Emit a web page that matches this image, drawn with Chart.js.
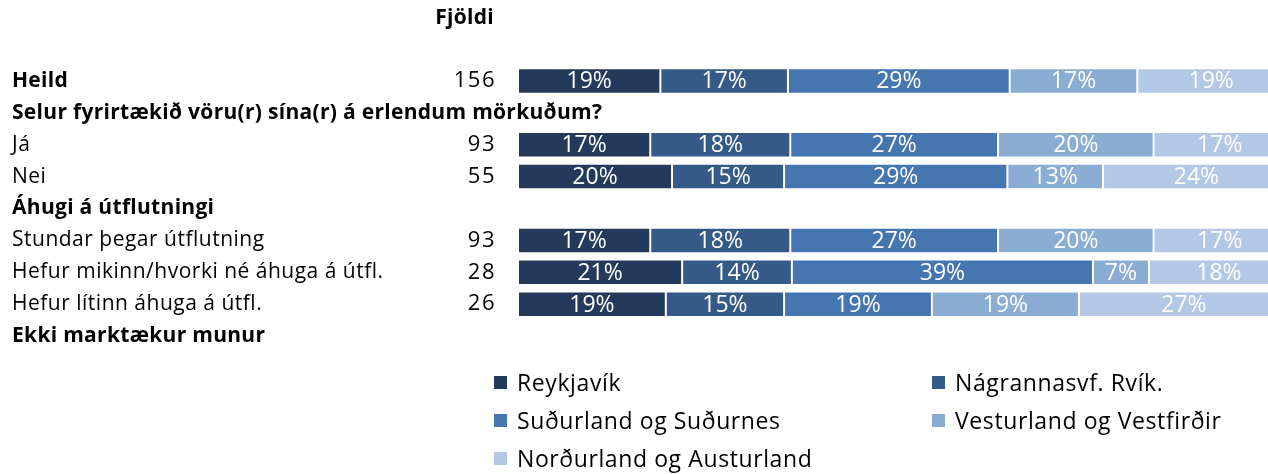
<!DOCTYPE html>
<html lang="is">
<head>
  <meta charset="UTF-8">
  <title>Fjöldi eftir landshlutum</title>
  <script src="https://cdn.jsdelivr.net/npm/chart.js"></script>
  <style>
    body {
      margin: 0;
      background: #ffffff;
      overflow: hidden;
    }
    .chart-wrap {
      position: relative;
      width: 1300px;
      height: 474px;
    }
    #legend {
      position: absolute;
      left: 494px;
      top: 363px;
      display: grid;
      grid-template-columns: 438px auto;
      grid-auto-rows: 38px;
      font-family: 'Open Sans', sans-serif;
      font-size: 23px;
      letter-spacing: 0.6px;
      color: #000;
    }
    #legend .item {
      display: flex;
      align-items: center;
      white-space: nowrap;
    }
    #legend .box {
      width: 13px;
      height: 13px;
      margin-right: 10px;
    }
  </style>
</head>
<body>
  <div class="chart-wrap">
    <canvas id="regionChart" width="1300" height="474"></canvas>
    <div id="legend"></div>
  </div>

  <script>
    // Rows (header rows have no bars)
    const rows = [
      'Heild',
      'Selur fyrirtækið vöru(r) sína(r) á erlendum mörkuðum?',
      'Já',
      'Nei',
      'Áhugi á útflutningi',
      'Stundar þegar útflutning',
      'Hefur mikinn/hvorki né áhuga á útfl.',
      'Hefur lítinn áhuga á útfl.',
      'Ekki marktækur munur'
    ];
    const boldRows = [0, 1, 4, 8];
    const counts = [156, null, 93, 55, null, 93, 28, 26, null];

    const seriesNames = ['Reykjavík', 'Nágrannasvf. Rvík.', 'Suðurland og Suðurnes', 'Vesturland og Vestfirðir', 'Norðurland og Austurland'];
    const seriesColors = ['#243a5a', '#355a88', '#4676b0', '#8badd4', '#b3c8e4'];

    // Bar lengths (%)
    const reykjavik   = [18.3, null, 17.0, 19.8, null, 17.0, 21.1, 19.0, null];
    const nagrannasvf = [16.4, null, 18.0, 14.4, null, 18.0, 14.1, 15.2, null];
    const sudurland   = [28.5, null, 26.7, 28.7, null, 26.7, 38.7, 19.0, null];
    const vesturland  = [16.4, null, 20.0, 12.3, null, 20.0, 7.2, 18.9, null];
    const nordurland  = [19.0, null, 17.0, 24.0, null, 17.0, 18.0, 27.0, null];

    // Percentages printed on the bars
    const reykjavikPct   = [19, null, 17, 20, null, 17, 21, 19, null];
    const nagrannasvfPct = [17, null, 18, 15, null, 18, 14, 15, null];
    const sudurlandPct   = [29, null, 27, 29, null, 27, 39, 19, null];
    const vesturlandPct  = [17, null, 20, 13, null, 20, 7, 19, null];
    const nordurlandPct  = [19, null, 17, 24, null, 17, 18, 27, null];

    const seriesValues = [reykjavik, nagrannasvf, sudurland, vesturland, nordurland];
    const seriesPct = [reykjavikPct, nagrannasvfPct, sudurlandPct, vesturlandPct, nordurlandPct];

    const labelFont = "'Open Sans', sans-serif";

    // Row labels, counts, percent labels and the "Fjöldi" header
    const textPlugin = {
      id: 'textPlugin',
      afterDatasetsDraw(chart) {
        const ctx = chart.ctx;
        const y = chart.scales.y;
        ctx.save();
        ctx.textBaseline = 'middle';

        // percentages inside the bars
        ctx.fillStyle = '#ffffff';
        ctx.font = '23px ' + labelFont;
        ctx.textAlign = 'center';
        ctx.letterSpacing = '0px';
        chart.data.datasets.forEach((ds, di) => {
          const meta = chart.getDatasetMeta(di);
          meta.data.forEach((bar, i) => {
            const pct = seriesPct[di][i];
            if (pct == null) return;
            const c = bar.getCenterPoint();
            ctx.fillText(pct + '%', c.x, c.y + 1);
          });
        });

        // row labels
        ctx.fillStyle = '#000000';
        ctx.textAlign = 'left';
        rows.forEach((label, i) => {
          if (boldRows.includes(i)) {
            ctx.font = 'bold 21px ' + labelFont;
            ctx.letterSpacing = '0.3px';
          } else {
            ctx.font = '21px ' + labelFont;
            ctx.letterSpacing = '0.5px';
          }
          ctx.fillText(label, 12, y.getPixelForValue(i));
        });

        // counts
        ctx.textAlign = 'right';
        ctx.font = '22px ' + labelFont;
        ctx.letterSpacing = '1.5px';
        counts.forEach((n, i) => {
          if (n == null) return;
          ctx.fillText(String(n), 496, y.getPixelForValue(i));
        });

        ctx.font = 'bold 21px ' + labelFont;
        ctx.letterSpacing = '0.3px';
        ctx.fillText('Fjöldi', 494, 18);
        ctx.restore();
      }
    };

    const chart = new Chart(document.getElementById('regionChart'), {
      type: 'bar',
      data: {
        labels: rows,
        datasets: seriesNames.map((name, i) => ({
          label: name,
          data: seriesValues[i],
          backgroundColor: seriesColors[i],
          borderColor: 'rgba(255,255,255,0.3)',
          borderWidth: 1,
          borderSkipped: false,
          barPercentage: 0.8,
          categoryPercentage: 1.0
        }))
      },
      options: {
        indexAxis: 'y',
        responsive: false,
        animation: false,
        layout: {
          padding: { left: 518, right: 4, top: 65, bottom: 122 }
        },
        plugins: {
          legend: { display: false },
          tooltip: { enabled: false }
        },
        scales: {
          x: {
            stacked: true,
            min: 0,
            max: 100,
            display: false
          },
          y: {
            stacked: true,
            display: false
          }
        }
      },
      plugins: [textPlugin]
    });

    // Legend in two columns, built from the chart's datasets
    const legend = document.getElementById('legend');
    chart.data.datasets.forEach((ds) => {
      const item = document.createElement('div');
      item.className = 'item';
      const box = document.createElement('span');
      box.className = 'box';
      box.style.background = ds.backgroundColor;
      const text = document.createElement('span');
      text.textContent = ds.label;
      item.appendChild(box);
      item.appendChild(text);
      legend.appendChild(item);
    });
  </script>
</body>
</html>
